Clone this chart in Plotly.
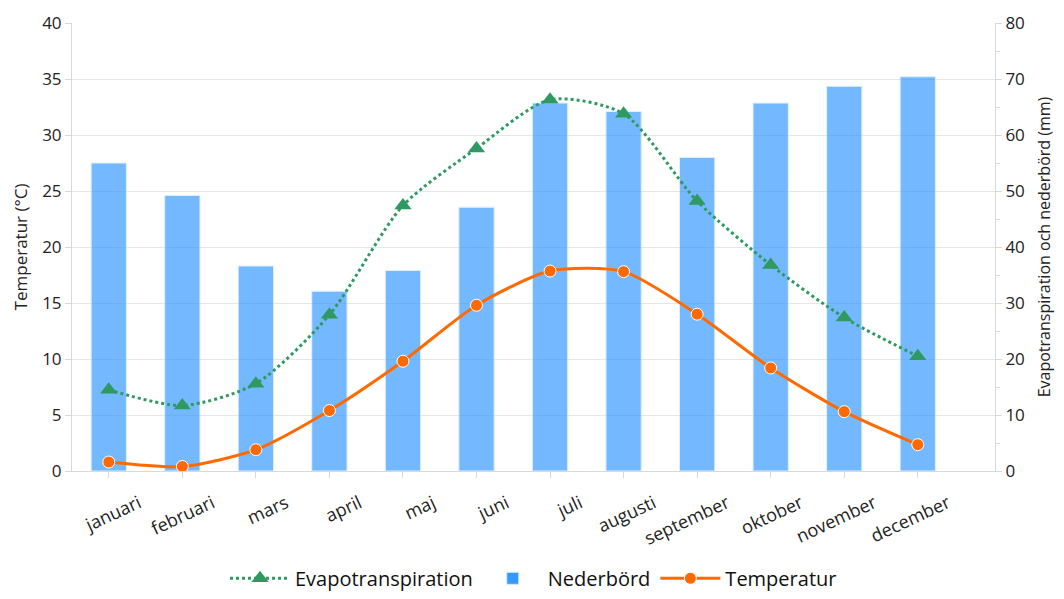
import plotly.graph_objects as go

months = ["januari", "februari", "mars", "april", "maj", "juni", "juli",
          "augusti", "september", "oktober", "november", "december"]
nederbord_mm = [55.0, 49.2, 36.6, 32.1, 35.8, 47.1, 65.7, 64.2, 56.0, 65.7, 68.7, 70.4]
evapotranspiration_mm = [14.5, 11.7, 15.6, 27.9, 47.4, 57.6, 66.3, 63.8, 48.2, 36.8, 27.4, 20.5]
temperatur_c = [0.8, 0.4, 1.9, 5.4, 9.8, 14.8, 17.85, 17.8, 14.0, 9.2, 5.3, 2.35]

FONT = "Open Sans, Noto Sans, sans-serif"
GRID = "#e6e6e6"
AXIS = "#d9d9d9"

fig = go.Figure()

# mm series share the right-hand axis; temperature sits on the left overlay axis
fig.add_trace(go.Scatter(
    x=months, y=evapotranspiration_mm, name="Evapotranspiration",
    mode="lines+markers", yaxis="y",
    line=dict(color="#2e9a62", width=3, dash="dot", shape="spline", smoothing=0.75),
    marker=dict(symbol="triangle-up", size=15, color="#2e9a62"),
))
fig.add_trace(go.Bar(
    x=months, y=nederbord_mm, name="Nederbörd", yaxis="y",
    marker=dict(color="#3399ff", opacity=0.68,
                line=dict(color="rgba(210,232,255,1)", width=1)),
))
fig.add_trace(go.Scatter(
    x=months, y=temperatur_c, name="Temperatur",
    mode="lines+markers", yaxis="y2",
    line=dict(color="#ff6a00", width=3, shape="spline", smoothing=0.7),
    marker=dict(symbol="circle", size=12, color="#ff6a00",
                line=dict(color="white", width=1)),
))

fig.update_layout(
    width=1064, height=599,
    margin=dict(l=72, r=69, t=23, b=128, autoexpand=False),
    paper_bgcolor="white", plot_bgcolor="white",
    font=dict(family=FONT, color="#222222", size=17),
    bargap=0.52,
    showlegend=True,
    legend=dict(orientation="h", x=0.5, xanchor="center", y=-0.283, yanchor="bottom",
                font=dict(size=20, color="#111111"), traceorder="normal",
                itemwidth=60, bgcolor="rgba(0,0,0,0)"),
    xaxis=dict(
        type="category", range=[-0.5, 12.05],
        tickangle=-25, tickfont=dict(size=18),
        ticklabelshift=30, ticklabelstandoff=8,
        ticks="outside", ticklen=6, tickcolor=AXIS,
        showline=True, linecolor=AXIS, linewidth=1,
        showgrid=False,
    ),
    yaxis=dict(
        side="right", range=[0, 80], dtick=10,
        title=dict(text="Evapotranspiration och nederbörd (mm)", font=dict(size=16), standoff=14),
        showgrid=True, gridcolor=GRID, zeroline=False,
        showline=True, linecolor=AXIS, ticks="outside", ticklen=6, tickcolor=AXIS,
        minor=dict(dtick=5, ticks="outside", ticklen=4, tickcolor=AXIS, showgrid=False),
    ),
    yaxis2=dict(
        side="left", overlaying="y", range=[0, 40], dtick=5,
        title=dict(text="Temperatur (°C)", font=dict(size=17), standoff=10),
        showgrid=False, zeroline=False,
        showline=True, linecolor=AXIS, ticks="outside", ticklen=6, tickcolor=AXIS,
    ),
)

fig.write_html("out.html")
